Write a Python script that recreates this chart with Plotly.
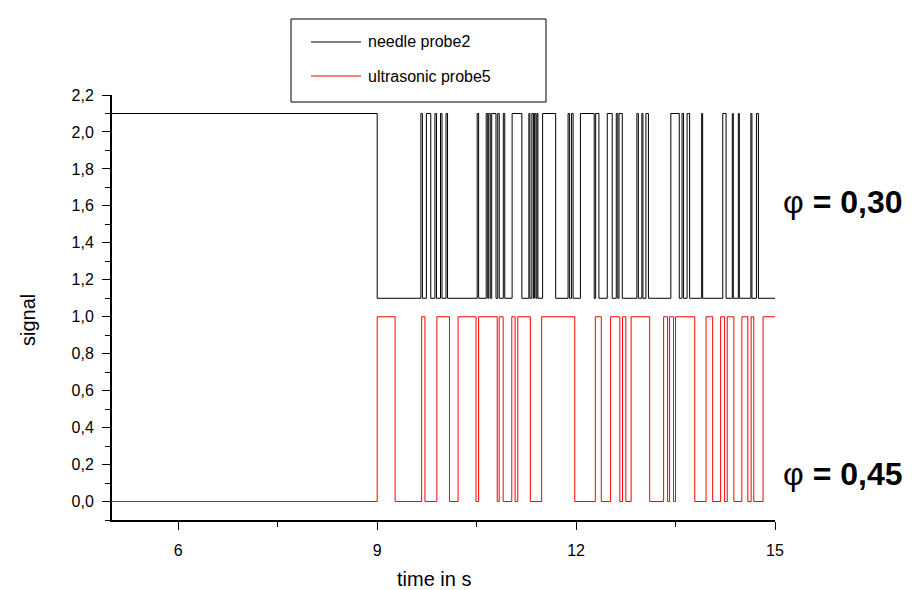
import plotly.graph_objects as go

# ---- data ----
x_start = 5.0
x_end = 15.0
needle_levels = [1.1, 2.1]          # low, high
ultra_levels = [0.0, 1.0]           # low, high
needle_initial_high_until = 9.0
needle_pulse_start = [9.659, 9.742, 9.871, 9.955, 10.038, 10.508, 10.644, 10.682, 10.727, 10.818,
                      10.902, 11.035, 11.288, 11.333, 11.371, 11.409, 11.495, 11.879, 11.932, 12.065,
                      12.295, 12.470, 12.606, 12.647, 12.917, 12.992, 13.053, 13.429, 13.598, 13.674,
                      13.894, 14.212, 14.356, 14.447, 14.636, 14.720]
needle_pulse_end = [9.682, 9.808, 9.894, 9.977, 10.061, 10.530, 10.667, 10.705, 10.792, 10.841,
                    10.924, 11.182, 11.303, 11.356, 11.394, 11.424, 11.692, 11.902, 11.955, 12.273,
                    12.344, 12.545, 12.629, 12.697, 12.939, 13.008, 13.091, 13.556, 13.621, 13.712,
                    13.909, 14.262, 14.371, 14.462, 14.652, 14.750]
ultra_pulse_start = [9.00, 9.67, 9.90, 10.22, 10.53, 10.84, 11.03, 11.12, 11.48, 12.29, 12.52,
                     12.70, 12.83, 13.32, 13.41, 13.50, 13.96, 14.18, 14.28, 14.50, 14.64, 14.82]
ultra_pulse_end = [9.27, 9.72, 10.09, 10.49, 10.81, 10.90, 11.08, 11.31, 11.98, 12.38, 12.66,
                   12.75, 13.11, 13.38, 13.47, 13.79, 14.06, 14.24, 14.38, 14.59, 14.68, 15.00]
series_names = ["needle probe2", "ultrasonic probe5"]
x_tick_vals = [6, 9, 12, 15]
x_tick_text = ["6", "9", "12", "15"]
y_tick_vals = [0.0, 0.2, 0.4, 0.6, 0.8, 1.0, 1.2, 1.4, 1.6, 1.8, 2.0, 2.2]
y_tick_text = ["0,0", "0,2", "0,4", "0,6", "0,8", "1,0", "1,2", "1,4", "1,6", "1,8", "2,0", "2,2"]
phi_values = ["0,30", "0,45"]
phi_label_y = [1.62, 0.15]
x_title = "time in s"
y_title = "signal"


def build_steps(first_level, first_until, starts, ends, low, high):
    xs = [x_start]
    ys = [first_level]
    if first_until is not None:
        xs.append(first_until)
        ys.append(low)
    for a, b in zip(starts, ends):
        xs.append(a)
        ys.append(high)
        if b < x_end:
            xs.append(b)
            ys.append(low)
    xs.append(x_end)
    ys.append(ys[-1])
    return xs, ys


nx, ny = build_steps(needle_levels[1], needle_initial_high_until,
                     needle_pulse_start, needle_pulse_end, needle_levels[0], needle_levels[1])
ux, uy = build_steps(ultra_levels[0], None,
                     ultra_pulse_start, ultra_pulse_end, ultra_levels[0], ultra_levels[1])

FONT = "Arial, Liberation Sans, Helvetica, sans-serif"

fig = go.Figure()
fig.add_trace(go.Scatter(x=nx, y=ny, mode="lines", line_shape="hv",
                         line=dict(color="black", width=1), name=series_names[0],
                         showlegend=False))
fig.add_trace(go.Scatter(x=ux, y=uy, mode="lines", line_shape="hv",
                         line=dict(color="#ff0000", width=1), name=series_names[1],
                         showlegend=False))

W, H = 920, 590
L, R, T, B = 104, 153, 87, 78
pw, ph = W - L - R, H - T - B


def px(xp):
    return (xp - L) / pw


def py(yp):
    return 1 - (yp - T) / ph


# custom legend box
fig.add_shape(type="rect", xref="paper", yref="paper",
              x0=px(283), x1=px(538), y0=py(94), y1=py(11),
              line=dict(color="black", width=1), fillcolor="white")
legend_colors = ["black", "#ff0000"]
legend_y = [34, 68]
for name, col, yy in zip(series_names, legend_colors, legend_y):
    fig.add_shape(type="line", xref="paper", yref="paper",
                  x0=px(303), x1=px(353), y0=py(yy), y1=py(yy),
                  line=dict(color=col, width=1))
    fig.add_annotation(xref="paper", yref="paper", x=px(358), y=py(yy),
                       text=name, showarrow=False, xanchor="left", yanchor="middle",
                       font=dict(family=FONT, size=16, color="black"))

for val, yy in zip(phi_values, phi_label_y):
    fig.add_annotation(xref="paper", yref="y", x=px(773), y=yy,
                       text="φ <b>= " + val + "</b>",
                       showarrow=False, xanchor="left", yanchor="middle",
                       font=dict(family=FONT, size=32, color="black"))

# axis titles
fig.add_annotation(xref="paper", yref="paper", x=px(426), y=py(571), text=x_title,
                   showarrow=False, xanchor="center", yanchor="middle",
                   font=dict(family=FONT, size=20, color="black"))
fig.add_annotation(xref="paper", yref="paper", x=px(20), y=py(312), text=y_title,
                   textangle=-90, showarrow=False, xanchor="center", yanchor="middle",
                   font=dict(family=FONT, size=20, color="black"))

fig.update_layout(
    width=W, height=H,
    margin=dict(l=L, r=R, t=T, b=B),
    paper_bgcolor="white", plot_bgcolor="white",
    showlegend=False,
    font=dict(family=FONT, color="black"),
)
fig.update_xaxes(range=[x_start, x_end], showgrid=False, zeroline=False,
                 showline=True, linecolor="black", linewidth=2,
                 ticks="outside", ticklen=8, tickwidth=1.2, tickcolor="black",
                 tickmode="array", tickvals=x_tick_vals, ticktext=x_tick_text,
                 ticklabelstandoff=7,
                 minor=dict(ticks="outside", ticklen=5, tickwidth=1.2, tickcolor="black",
                            tick0=0, dtick=1.5, showgrid=False),
                 tickfont=dict(family=FONT, size=16, color="black"))
fig.update_yaxes(range=[-0.1, 2.2001], showgrid=False, zeroline=False,
                 showline=True, linecolor="black", linewidth=2,
                 ticks="outside", ticklen=8, tickwidth=1.2, tickcolor="black",
                 tickmode="array", tickvals=y_tick_vals, ticktext=y_tick_text,
                 ticklabelstandoff=5,
                 minor=dict(ticks="outside", ticklen=5, tickwidth=1.2, tickcolor="black",
                            tick0=0, dtick=0.1, showgrid=False),
                 tickfont=dict(family=FONT, size=16, color="black"))

fig.write_html("out.html")
